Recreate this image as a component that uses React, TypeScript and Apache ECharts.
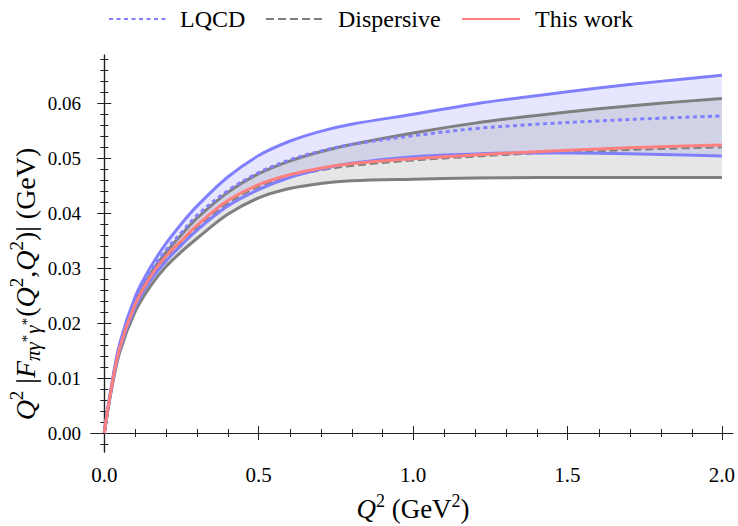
import React, { useEffect, useRef } from 'react';
import * as echarts from 'echarts';

// Q^2 grid (GeV^2)
const q2 = [0, 0.02, 0.05, 0.1, 0.15, 0.2, 0.25, 0.3, 0.4, 0.5, 0.6, 0.7, 0.8, 1.0, 1.2, 1.4, 1.6, 1.8, 2.0];
// Q^2 |F(Q^2,Q^2)| (GeV)
const thisWork = [0, 0.0072, 0.0155, 0.0234, 0.0285, 0.0322, 0.0350, 0.0378, 0.0423, 0.0452, 0.0470, 0.0482, 0.0490, 0.0499, 0.0506, 0.0512, 0.0517, 0.0521, 0.0524];
const lqcdCentral = [0, 0.0073, 0.0158, 0.0240, 0.0293, 0.0333, 0.0365, 0.0396, 0.0441, 0.0474, 0.0497, 0.0513, 0.0525, 0.0541, 0.0554, 0.0562, 0.0568, 0.0573, 0.0577];
const lqcdUpper = [0, 0.0075, 0.0163, 0.0248, 0.0302, 0.0345, 0.0381, 0.0413, 0.0466, 0.0505, 0.0531, 0.0549, 0.0562, 0.0580, 0.0599, 0.0614, 0.0628, 0.0640, 0.0651];
const lqcdLower = [0, 0.0071, 0.0152, 0.0229, 0.0278, 0.0313, 0.0342, 0.0369, 0.0413, 0.0443, 0.0465, 0.0480, 0.0491, 0.0503, 0.0508, 0.0510, 0.0509, 0.0507, 0.0504];
const dispCentral = [0, 0.0071, 0.0153, 0.0231, 0.0281, 0.0318, 0.0346, 0.0374, 0.0418, 0.0448, 0.0466, 0.0478, 0.0486, 0.0496, 0.0503, 0.0509, 0.0513, 0.0517, 0.0520];
const dispUpper = [0, 0.0072, 0.0157, 0.0238, 0.0290, 0.0329, 0.0361, 0.0391, 0.0438, 0.0472, 0.0495, 0.0512, 0.0525, 0.0546, 0.0564, 0.0578, 0.0590, 0.0600, 0.0609];
const dispLower = [0, 0.0069, 0.0147, 0.0221, 0.0268, 0.0303, 0.0330, 0.0354, 0.0398, 0.0428, 0.0445, 0.0454, 0.0459, 0.0462, 0.0464, 0.0465, 0.0465, 0.0465, 0.0465];

const xMajorTicks = [0, 0.5, 1.0, 1.5, 2.0];
const yMajorTicks = [0, 0.01, 0.02, 0.03, 0.04, 0.05, 0.06];
const xLabels = ['0.0', '0.5', '1.0', '1.5', '2.0'];
const yLabels = ['0.00', '0.01', '0.02', '0.03', '0.04', '0.05', '0.06'];
const legendNames = ['LQCD', 'Dispersive', 'This work'];

const X_MIN = -0.043, X_MAX = 2.0356;
const Y_MIN = -0.00345, Y_MAX = 0.0688;

const FONT = "'Liberation Serif', 'Times New Roman', serif";
const BLUE = '#8080ff';
const GRAY = '#7f7f7f';
const RED = '#ff7f7f';
const SMOOTH = 0.35;

// legend layout (icon start x, text start x)
const LEGEND_ICON_X = [108, 265, 461];
const LEGEND_TEXT_X = [180, 338, 535];
const LEGEND_Y = 19;

function minorList(step: number, lo: number, hi: number, majors: number[]) {
  const out: number[] = [];
  const start = Math.ceil(lo / step - 1e-9);
  const end = Math.floor(hi / step + 1e-9);
  for (let k = start; k <= end; k++) {
    const v = +(k * step).toFixed(6);
    if (!majors.some((m) => Math.abs(m - v) < 1e-9)) out.push(v);
  }
  return out;
}

const pts = (ys: number[]) => q2.map((x, i) => [x, ys[i]]);

export default function App() {
  const ref = useRef<HTMLDivElement>(null);
  useEffect(() => {
    if (!ref.current) return;
    const chart = echarts.init(ref.current, undefined, { renderer: 'svg' });
    const xMinor = minorList(0.1, X_MIN, X_MAX, xMajorTicks);
    const yMinor = minorList(0.002, Y_MIN, Y_MAX, yMajorTicks);
    const gridRect = { left: 91, top: 55, right: 4, bottom: 74, containLabel: false };
    const axisLine = { show: true, lineStyle: { color: '#222', width: 1.2 } };
    const majorTick = (vals: number[]) => ({ show: true, inside: true, length: 7, customValues: vals, lineStyle: { color: '#222', width: 1 } });
    const minorTickAx = (vals: number[]) => ({ show: true, inside: true, length: 4, customValues: vals, lineStyle: { color: '#222', width: 1 } });
    const noLabel = { show: false };

    const lineSeries = (name: string, ys: number[], color: string, width: number, type: any, z: number) => ({
      type: 'line', name, data: pts(ys), xAxisIndex: 0, yAxisIndex: 0,
      showSymbol: false, symbol: 'none', smooth: SMOOTH, clip: false, z,
      lineStyle: { color, width, type },
      itemStyle: { color },
    });
    const bandSeries = (name: string, upper: number[], lower: number[], fill: string) => ({
      type: 'custom', name, xAxisIndex: 0, yAxisIndex: 0, z: 1, silent: true, clip: false,
      data: [[q2[0], lower[0]]],
      renderItem: (_params: any, api: any) => {
        const top = q2.map((x, i) => api.coord([x, upper[i]]));
        const bot = q2.map((x, i) => api.coord([x, lower[i]])).reverse();
        return { type: 'polygon', shape: { points: top.concat(bot) }, style: { fill, stroke: 'none' } };
      },
    });

    const legends = legendNames.map((name, i) => ({
      data: [name],
      left: LEGEND_ICON_X[i] - 5, top: LEGEND_Y - 12, itemWidth: 58, itemHeight: 14, itemGap: 0,
      itemStyle: { opacity: 0 },
      lineStyle: { width: 2 },
      selectedMode: false,
      formatter: () => '',
      textStyle: { fontSize: 1 },
    }));
    const legendLabels = legendNames.map((name, i) => ({
      type: 'text', x: LEGEND_TEXT_X[i], y: LEGEND_Y,
      style: {
        text: '{t|' + name + '}', fontFamily: FONT, fontSize: 24, fill: '#000', align: 'left', verticalAlign: 'middle',
        rich: { t: { fontFamily: FONT, fontSize: 24, lineHeight: 28 } },
      },
    }));
    const tickRich = (size: number) => ({ t: { fontFamily: FONT, fontSize: size, color: '#000' } });

    chart.setOption({
      animation: false,
      backgroundColor: '#ffffff',
      textStyle: { fontFamily: FONT },
      grid: [gridRect, gridRect],
      xAxis: [
        {
          type: 'value', gridIndex: 0, position: 'bottom', min: X_MIN, max: X_MAX,
          axisLine, axisTick: majorTick(xMajorTicks), splitLine: { show: false },
          axisLabel: {
            show: true, customValues: xMajorTicks, margin: 12, color: '#000', fontFamily: FONT, fontSize: 21,
            rich: tickRich(21),
            formatter: (v: number) => '{t|' + (xLabels[xMajorTicks.findIndex((m) => Math.abs(m - v) < 1e-9)] ?? '') + '}',
          },
        },
        { type: 'value', gridIndex: 0, position: 'top', min: X_MIN, max: X_MAX, axisLine, axisTick: majorTick(xMajorTicks), axisLabel: noLabel, splitLine: { show: false } },
        { type: 'value', gridIndex: 1, position: 'bottom', min: X_MIN, max: X_MAX, axisLine: { show: false }, axisTick: minorTickAx(xMinor), axisLabel: noLabel, splitLine: { show: false } },
        { type: 'value', gridIndex: 1, position: 'top', min: X_MIN, max: X_MAX, axisLine: { show: false }, axisTick: minorTickAx(xMinor), axisLabel: noLabel, splitLine: { show: false } },
      ],
      yAxis: [
        {
          type: 'value', gridIndex: 0, position: 'left', min: Y_MIN, max: Y_MAX,
          axisLine, axisTick: majorTick(yMajorTicks), splitLine: { show: false },
          axisLabel: {
            show: true, customValues: yMajorTicks, margin: 10, color: '#000', fontFamily: FONT, fontSize: 19,
            rich: tickRich(19),
            formatter: (v: number) => '{t|' + (yLabels[yMajorTicks.findIndex((m) => Math.abs(m - v) < 1e-9)] ?? '') + '}',
          },
        },
        { type: 'value', gridIndex: 0, position: 'right', min: Y_MIN, max: Y_MAX, axisLine, axisTick: majorTick(yMajorTicks), axisLabel: noLabel, splitLine: { show: false } },
        { type: 'value', gridIndex: 1, position: 'left', min: Y_MIN, max: Y_MAX, axisLine: { show: false }, axisTick: minorTickAx(yMinor), axisLabel: noLabel, splitLine: { show: false } },
        { type: 'value', gridIndex: 1, position: 'right', min: Y_MIN, max: Y_MAX, axisLine: { show: false }, axisTick: minorTickAx(yMinor), axisLabel: noLabel, splitLine: { show: false } },
      ],
      legend: legends,
      graphic: [
        ...legendLabels,
        {
          type: 'text', x: 413, y: 509,
          style: {
            text: '{i|Q}{sup|2} (GeV{sup|2})',
            fontFamily: FONT, fontSize: 27, fill: '#000', align: 'center', verticalAlign: 'middle',
            rich: {
              i: { fontFamily: FONT, fontSize: 27, fontStyle: 'italic', lineHeight: 34 },
              sup: { fontFamily: FONT, fontSize: 18, verticalAlign: 'top', lineHeight: 22 },
            },
          },
        },
        {
          type: 'text', x: 25, y: 284, rotation: Math.PI / 2,
          style: {
            text: '{i|Q}{sup|2} |{i|F}{sub|πγ}{ssup|*}{sub|γ}{ssup|*}{n|(}{i|Q}{sup|2}{n|,}{i|Q}{sup|2}{n|)}| (GeV)',
            fontFamily: FONT, fontSize: 28, fill: '#000', align: 'center', verticalAlign: 'middle',
            rich: {
              n: { fontFamily: FONT, fontSize: 28, lineHeight: 36 },
              i: { fontFamily: FONT, fontSize: 28, fontStyle: 'italic', lineHeight: 36 },
              sup: { fontFamily: FONT, fontSize: 19, verticalAlign: 'top', lineHeight: 22 },
              sub: { fontFamily: FONT, fontSize: 21, fontStyle: 'italic', verticalAlign: 'bottom', lineHeight: 22 },
              ssup: { fontFamily: FONT, fontSize: 15, verticalAlign: 'bottom', lineHeight: 15, padding: [0, 1, 9, 0] },
            },
          },
        },
      ],
      series: [
        bandSeries('lqcdBand', lqcdUpper, lqcdLower, 'rgba(128,128,255,0.2)'),
        bandSeries('dispBand', dispUpper, dispLower, 'rgba(128,128,128,0.2)'),
        lineSeries('dispUpperEdge', dispUpper, GRAY, 3, 'solid', 2),
        lineSeries('dispLowerEdge', dispLower, GRAY, 3, 'solid', 2),
        lineSeries('Dispersive', dispCentral, GRAY, 2, [8, 4], 3),
        lineSeries('lqcdUpperEdge', lqcdUpper, BLUE, 3, 'solid', 4),
        lineSeries('lqcdLowerEdge', lqcdLower, BLUE, 3, 'solid', 4),
        lineSeries('LQCD', lqcdCentral, BLUE, 3, [4, 3.5], 5),
        lineSeries('This work', thisWork, RED, 3, 'solid', 6),
      ],
    });
    return () => chart.dispose();
  }, []);
  return <div ref={ref} style={{ width: 738, height: 526, position: 'absolute', left: 0, top: 0 }} />;
}
